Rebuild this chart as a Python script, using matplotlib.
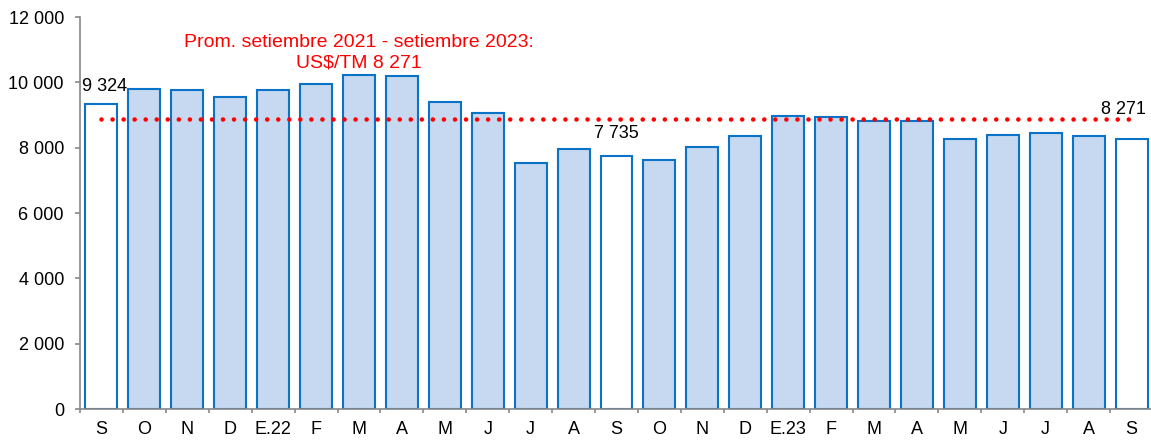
import matplotlib.pyplot as plt
import numpy as np

plt.rcParams["font.family"] = ["Liberation Sans", "DejaVu Sans"]

meses = ["S", "O", "N", "D", "E.22", "F", "M", "A", "M", "J", "J", "A",
         "S", "O", "N", "D", "E.23", "F", "M", "A", "M", "J", "J", "A", "S"]
precios = [9324, 9790, 9775, 9550, 9775, 9950, 10235, 10195, 9390, 9070, 7530, 7970,
           7735, 7620, 8030, 8360, 8970, 8950, 8830, 8805, 8265, 8390, 8450, 8360, 8271]
# barras en blanco (setiembre de cada año)
resaltar = [0, 12, 24]
linea_prom = 8865
etiquetas = {0: "9 324", 12: "7 735", 24: "8 271"}

azul = "#0a72c7"
celeste = "#c6d9f0"

fig = plt.figure(figsize=(11.51, 4.41), dpi=100)
ax = fig.add_axes([80/1151, 1 - 409/441, 1073/1151, 392/441])

x = np.arange(len(meses))
colores = ["white" if i in resaltar else celeste for i in x]
ax.bar(x, precios, width=0.745, color=colores, edgecolor=azul, linewidth=1.5, zorder=2)

ax.hlines(linea_prom, x[0], x[-1], linestyles=[(0, (0.01, 2.4))], colors="red",
          linewidth=3.3, capstyle="round", zorder=3)

# posiciones de las etiquetas (desplazamiento x, separación sobre la barra)
pos_etiq = {0: (0.08, 420), 12: (0.0, 560), 24: (-0.18, 760)}
for i, txt in etiquetas.items():
    dx, dy = pos_etiq[i]
    ax.text(i + dx, precios[i] + dy, txt, ha="center", va="baseline", fontsize=13)

ax.text(6.0, 11480, "Prom. setiembre 2021 - setiembre 2023:\nUS$/TM 8 271",
        ha="center", va="top", color="red", fontsize=14, linespacing=1.3)

ax.set_xlim(-0.5, len(meses) - 0.5)
ax.set_ylim(0, 12000)
ax.set_yticks(np.arange(0, 12001, 2000))
ax.set_yticklabels([f"{v:,}".replace(",", " ") for v in range(0, 12001, 2000)], fontsize=13)
ax.set_xticks(x)
ax.set_xticklabels(meses, fontsize=13)
ax.set_xticks(np.arange(-0.5, len(meses), 1), minor=True)
ax.tick_params(axis="x", which="major", length=0, pad=9)
ax.tick_params(axis="x", which="minor", length=3, color="#888888", width=1.2)
ax.tick_params(axis="y", length=3.6, color="#888888", width=1.2, pad=8)

for s in ["top", "right"]:
    ax.spines[s].set_visible(False)
for s in ["left", "bottom"]:
    ax.spines[s].set_color("#888888")
    ax.spines[s].set_linewidth(1.2)

fig.savefig("out.png", dpi=100)
